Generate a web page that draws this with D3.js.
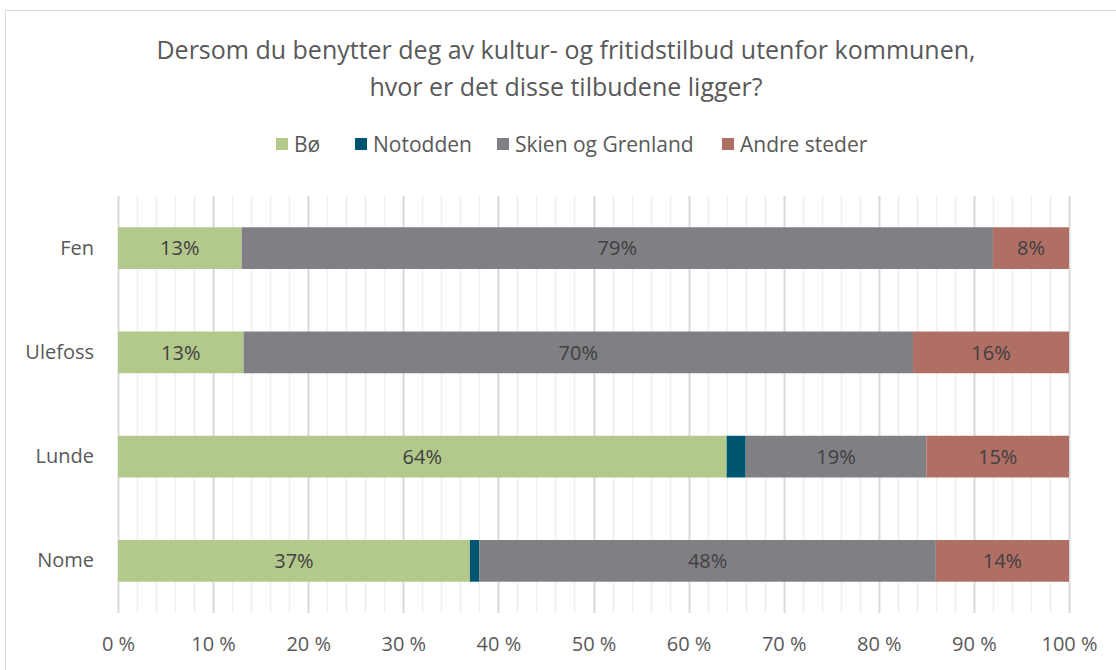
<!DOCTYPE html>
<html>
<head>
<meta charset="utf-8">
<script src="https://cdn.jsdelivr.net/npm/d3@7"></script>
<style>
  body { margin: 0; background: #fff; }
  svg { font-family: "Open Sans", sans-serif; }
</style>
</head>
<body>
<div id="chart"></div>
<script>
// chart data
var categories = ["Fen", "Ulefoss", "Lunde", "Nome"];
var seriesNames = ["Bø", "Notodden", "Skien og Grenland", "Andre steder"];
var bo = [13, 13.2, 64, 37];
var notodden = [0, 0, 2, 1];
var skien = [79, 70.4, 19, 48];
var andre = [8, 16.4, 15, 14];
var xTicks = [0, 10, 20, 30, 40, 50, 60, 70, 80, 90, 100];
var titleLines = ["Dersom du benytter deg av kultur- og fritidstilbud utenfor kommunen,", "hvor er det disse tilbudene ligger?"];

var colors = ["#b3c98c", "#005670", "#7f7f84", "#b06f64"];
var FONT = "'Open Sans', sans-serif";
var W = 1116, H = 670;
var MARGIN = { top: 196, right: 47, bottom: 57, left: 118 };
var width = W - MARGIN.left - MARGIN.right, height = H - MARGIN.top - MARGIN.bottom;

var rows = categories.map(function(c, i) {
  return { cat: c, "Bø": bo[i], "Notodden": notodden[i], "Skien og Grenland": skien[i], "Andre steder": andre[i] };
});
var stacked = d3.stack().keys(seriesNames)(rows);

var svg = d3.select("#chart").append("svg").attr("width", W).attr("height", H);
svg.append("rect").attr("x", 5.5).attr("y", 10.5).attr("width", W).attr("height", H)
  .attr("fill", "#fff").attr("stroke", "#d9d9d9").attr("stroke-width", 1);

svg.selectAll("text.title").data(titleLines).enter().append("text")
  .attr("class", "title").attr("x", 566).attr("y", function(d, i) { return 59 + i * 37; })
  .attr("text-anchor", "middle").attr("font-size", 25).attr("fill", "#595959").text(function(d) { return d; });

var x = d3.scaleLinear().domain([0, 100]).range([0, width]);
var y = d3.scaleBand().domain(categories).range([0, height]).paddingInner(0.6).paddingOuter(0.3);

var g = svg.append("g").attr("transform", "translate(" + MARGIN.left + "," + MARGIN.top + ")");

// minor and major gridlines
g.append("g").selectAll("line").data(d3.range(0, 101, 2)).enter().append("line")
  .attr("x1", function(d) { return Math.round(x(d)) + 0.5; }).attr("x2", function(d) { return Math.round(x(d)) + 0.5; })
  .attr("y1", 0).attr("y2", height)
  .attr("stroke", function(d) { return d % 10 === 0 ? "#d9d9d9" : "#efefef"; })
  .attr("stroke-width", function(d) { return d % 10 === 0 ? 2 : 1.5; });

var layers = g.selectAll("g.layer").data(stacked).enter().append("g")
  .attr("class", "layer").attr("fill", function(d, i) { return colors[i]; });

layers.selectAll("rect").data(function(d) { return d; }).enter().append("rect")
  .attr("x", function(d) { return x(d[0]); })
  .attr("y", function(d) { return y(d.data.cat); })
  .attr("width", function(d) { return x(d[1]) - x(d[0]); })
  .attr("height", y.bandwidth());

layers.selectAll("text").data(function(d) { return d.filter(function(e) { return e[1] - e[0] >= 3; }); })
  .enter().append("text")
  .attr("x", function(d) { return x((d[0] + d[1]) / 2); })
  .attr("y", function(d) { return y(d.data.cat) + y.bandwidth() / 2; })
  .attr("dy", "0.36em").attr("text-anchor", "middle").attr("font-size", 20).attr("fill", "#404040")
  .text(function(d) { return Math.round(d[1] - d[0]) + "%"; });

var xAxis = d3.axisBottom(x).tickValues(xTicks).tickSize(0).tickPadding(24)
  .tickFormat(function(d) { return d + " %"; });
g.append("g").attr("transform", "translate(0," + height + ")").call(xAxis)
  .call(function(s) { s.select(".domain").remove(); })
  .selectAll("text").attr("font-size", 20).attr("fill", "#595959").attr("font-family", FONT);

var yAxis = d3.axisLeft(y).tickSize(0).tickPadding(24);
g.append("g").call(yAxis)
  .call(function(s) { s.select(".domain").remove(); })
  .selectAll("text").attr("font-size", 20).attr("fill", "#595959").attr("font-family", FONT);

// legend
var legendX = [276, 355, 497, 722];
var legend = svg.append("g").selectAll("g").data(seriesNames).enter().append("g")
  .attr("transform", function(d, i) { return "translate(" + legendX[i] + ",138)"; });
legend.append("rect").attr("width", 12).attr("height", 12).attr("fill", function(d, i) { return colors[i]; });
legend.append("text").attr("x", 18).attr("y", 6).attr("dy", "0.36em").attr("font-size", 21)
  .attr("fill", "#595959").text(function(d) { return d; });
</script>
</body>
</html>
